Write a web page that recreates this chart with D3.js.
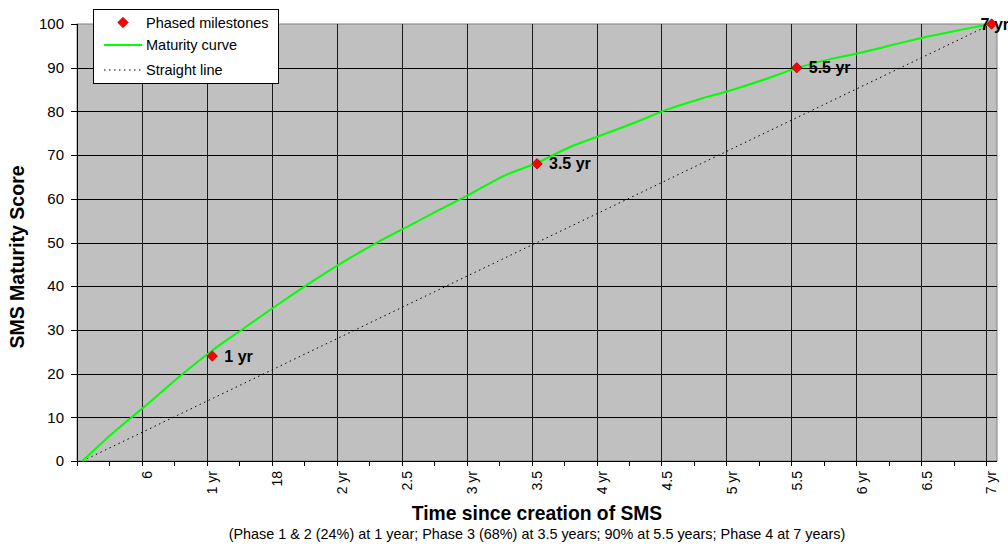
<!DOCTYPE html>
<html>
<head>
<meta charset="utf-8">
<script src="https://cdn.jsdelivr.net/npm/d3@7"></script>
<style>
  body { margin: 0; background: #fff; }
  text { font-family: "Liberation Sans", Arial, sans-serif; }
</style>
</head>
<body>
<div id="chart"></div>
<script>
// Chart size
var width = 1008;
var height = 547;

// Plot area edges
var plot = { left: 77, right: 997, top: 24, bottom: 461 };

// Months since creation (categories 0..84)
var categoryCount = 85;

// Axis labels on the category axis
var tickMonths = [6, 12, 18, 24, 30, 36, 42, 48, 54, 60, 66, 72, 78, 84];
var tickLabels = ["6", "1 yr", "18", "2 yr", "2.5", "3 yr", "3.5", "4 yr", "4.5", "5 yr", "5.5", "6 yr", "6.5", "7 yr"];

// Maturity curve, every 3 months
var curveMonths = [0, 3, 6, 9, 12, 15, 18, 21, 24, 27, 30, 33, 36, 39, 42, 45, 48, 51, 54, 57, 60, 63, 66, 69, 72, 75, 78, 81, 84];
var curveScores = [0, 6.8, 13, 19.4, 25.3, 30.5, 35.7, 40.7, 45.4, 49.7, 53.6, 57.5, 61.3, 65.3, 68.2, 71.8, 74.6, 77.4, 80.4, 82.8, 84.9, 87.3, 89.9, 91.9, 93.5, 95.3, 97.1, 98.6, 100];

// Straight line from start to end
var lineMonths = [0, 84];
var lineScores = [0, 100];

// Phased milestones
var milestoneMonths = [12, 42, 66, 84];
var milestoneScores = [24, 68, 90, 100];
var milestoneLabels = ["1 yr", "3.5 yr", "5.5 yr", "7 yr"];

var yTicks = [0, 10, 20, 30, 40, 50, 60, 70, 80, 90, 100];

var svg = d3.select("#chart").append("svg")
    .attr("width", width)
    .attr("height", height);

var x = d3.scaleBand()
    .domain(d3.range(categoryCount))
    .range([plot.left, plot.right])
    .padding(0);

var y = d3.scaleLinear()
    .domain([0, 100])
    .range([plot.bottom, plot.top]);

function cx(m) { return x(m) + x.bandwidth() / 2; }

// Plot background
svg.append("rect")
    .attr("x", plot.left)
    .attr("y", plot.top)
    .attr("width", plot.right - plot.left)
    .attr("height", plot.bottom - plot.top)
    .style("fill", "#c0c0c0")
    .style("stroke", "#808080");

// Horizontal gridlines
svg.append("g").selectAll("line")
    .data(yTicks.filter(function(d) { return d > 0 && d < 100; }))
    .enter().append("line")
    .attr("x1", plot.left).attr("x2", plot.right)
    .attr("y1", function(d) { return Math.round(y(d)) + 0.5; })
    .attr("y2", function(d) { return Math.round(y(d)) + 0.5; })
    .style("stroke", "#000");

// Vertical gridlines at every 6 months (category boundaries)
svg.append("g").selectAll("line")
    .data(tickMonths)
    .enter().append("line")
    .attr("x1", function(d) { return Math.round(x(d)) + 0.5; })
    .attr("x2", function(d) { return Math.round(x(d)) + 0.5; })
    .attr("y1", plot.top).attr("y2", plot.bottom)
    .style("stroke", "#1a1a1a");

// Y axis
svg.append("line")
    .attr("x1", plot.left + 0.5).attr("x2", plot.left + 0.5)
    .attr("y1", plot.top).attr("y2", plot.bottom)
    .style("stroke", "#000");

svg.append("g").selectAll("line")
    .data(yTicks)
    .enter().append("line")
    .attr("x1", plot.left - 6).attr("x2", plot.left)
    .attr("y1", function(d) { return Math.round(y(d)) + 0.5; })
    .attr("y2", function(d) { return Math.round(y(d)) + 0.5; })
    .style("stroke", "#000");

svg.append("g").selectAll("text")
    .data(yTicks)
    .enter().append("text")
    .attr("x", plot.left - 13)
    .attr("y", function(d) { return y(d); })
    .attr("dy", "0.35em")
    .attr("text-anchor", "end")
    .style("font-size", "15px")
    .style("fill", "#000")
    .text(function(d) { return d; });

// X axis
svg.append("line")
    .attr("x1", plot.left).attr("x2", plot.right)
    .attr("y1", plot.bottom + 0.5).attr("y2", plot.bottom + 0.5)
    .style("stroke", "#000");

svg.append("g").selectAll("line")
    .data(d3.range(0, categoryCount, 3))
    .enter().append("line")
    .attr("x1", function(d) { return Math.round(x(d)) + 0.5; })
    .attr("x2", function(d) { return Math.round(x(d)) + 0.5; })
    .attr("y1", plot.bottom).attr("y2", plot.bottom + 5)
    .style("stroke", "#000");

svg.append("g").selectAll("text")
    .data(tickMonths)
    .enter().append("text")
    .attr("transform", function(d) { return "translate(" + cx(d) + "," + (plot.bottom + 10) + ") rotate(-90)"; })
    .attr("dy", "0.35em")
    .attr("text-anchor", "end")
    .style("font-size", "14px")
    .style("fill", "#000")
    .text(function(d, i) { return tickLabels[i]; });

// Straight line (dotted)
var line = d3.line()
    .x(function(d) { return cx(d[0]); })
    .y(function(d) { return y(d[1]); });

svg.append("path")
    .datum(d3.zip(lineMonths, lineScores))
    .attr("d", line)
    .style("fill", "none")
    .style("stroke", "#000")
    .style("stroke-width", 1)
    .style("stroke-dasharray", "1.5,3.5");

// Maturity curve
svg.append("path")
    .datum(d3.zip(curveMonths, curveScores))
    .attr("d", line.curve(d3.curveMonotoneX))
    .style("fill", "none")
    .style("stroke", "#00ff00")
    .style("stroke-width", 2);

// Milestone labels
svg.append("g").selectAll("text")
    .data(milestoneMonths)
    .enter().append("text")
    .attr("x", function(d, i) { return i === milestoneMonths.length - 1 ? cx(d) - 11 : cx(d) + 12; })
    .attr("y", function(d, i) { return y(milestoneScores[i]); })
    .attr("dy", "0.35em")
    .style("font-size", "16px")
    .style("font-weight", "bold")
    .style("fill", "#000")
    .text(function(d, i) { return milestoneLabels[i]; });

// Milestone markers
var diamond = d3.symbol().type(d3.symbolSquare).size(55);

svg.append("g").selectAll("path")
    .data(milestoneMonths)
    .enter().append("path")
    .attr("d", diamond)
    .attr("transform", function(d, i) { return "translate(" + cx(d) + "," + y(milestoneScores[i]) + ") rotate(45)"; })
    .style("fill", "#ff0000")
    .style("stroke", "#800000")
    .style("stroke-width", 0.6);

// Axis titles
svg.append("text")
    .attr("transform", "translate(24,257) rotate(-90)")
    .attr("text-anchor", "middle")
    .style("font-size", "19.5px")
    .style("font-weight", "bold")
    .style("fill", "#000")
    .text("SMS Maturity Score");

svg.append("text")
    .attr("x", 537)
    .attr("y", 520)
    .attr("text-anchor", "middle")
    .style("font-size", "19.3px")
    .style("font-weight", "bold")
    .style("fill", "#000")
    .text("Time since creation of SMS");

svg.append("text")
    .attr("x", 537)
    .attr("y", 539)
    .attr("text-anchor", "middle")
    .style("font-size", "14.4px")
    .style("fill", "#000")
    .text("(Phase 1 & 2 (24%) at 1 year; Phase 3 (68%) at 3.5 years; 90% at 5.5 years; Phase 4 at 7 years)");

// Legend
var legend = svg.append("g").attr("transform", "translate(93,9)");

legend.append("rect")
    .attr("x", 0.5).attr("y", 0.5)
    .attr("width", 185).attr("height", 74)
    .style("fill", "#fff")
    .style("stroke", "#000");

legend.append("path")
    .attr("d", diamond)
    .attr("transform", "translate(30,13.5) rotate(45)")
    .style("fill", "#ff0000")
    .style("stroke", "#800000")
    .style("stroke-width", 0.6);

legend.append("line")
    .attr("x1", 11).attr("x2", 49)
    .attr("y1", 36).attr("y2", 36)
    .style("stroke", "#00ff00")
    .style("stroke-width", 2);

legend.append("line")
    .attr("x1", 11).attr("x2", 49)
    .attr("y1", 61).attr("y2", 61)
    .style("stroke", "#000")
    .style("stroke-dasharray", "1.5,3.5");

legend.selectAll("text.item")
    .data(["Phased milestones", "Maturity curve", "Straight line"])
    .enter().append("text")
    .attr("class", "item")
    .attr("x", 53)
    .attr("y", function(d, i) { return [13.5, 36, 61][i]; })
    .attr("dy", "0.35em")
    .style("font-size", "14.5px")
    .style("fill", "#000")
    .text(function(d) { return d; });
</script>
</body>
</html>
